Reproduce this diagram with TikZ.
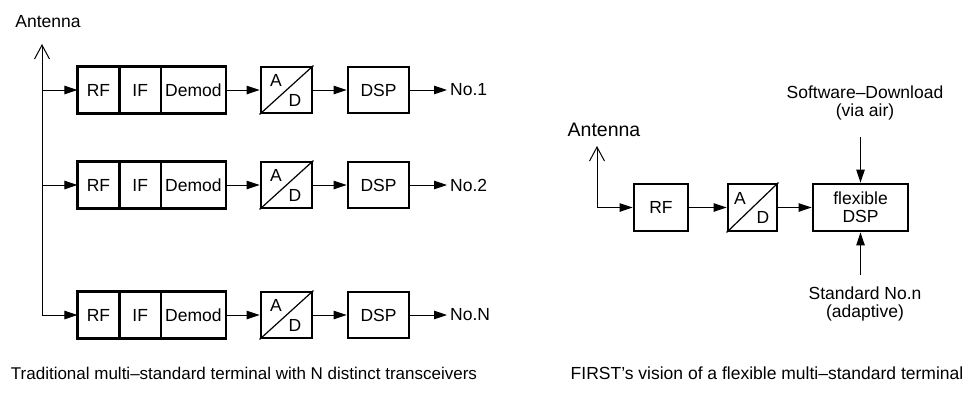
\documentclass[tikz,border=0pt]{standalone}
\usepackage{fontspec}
\setmainfont{Liberation Sans}
\usetikzlibrary{arrows.meta}
\begin{document}
\begin{tikzpicture}[x=1pt,y=1pt,yscale=-1,xscale=1,
		font=\fontsize{17.5}{18}\selectfont,
		blk/.style={draw,line width=2.8pt,minimum height=46pt,inner sep=0pt},
		cell/.style={draw,line width=1.2pt,minimum height=46pt,inner sep=0pt},
		sig/.style={line width=1pt,-{Triangle[length=13pt,width=8.5pt]}},
		ant/.style={line width=1pt,-{Straight Barb[length=14pt,width=15pt,line width=1pt]}},
		lbl/.style={inner sep=0pt,align=center}]
			\useasboundingbox (0,0) rectangle (965,400);
			%Left: one receiver chain per standard
			\foreach \y/\out [count=\n] in {90/No.1,185/No.2,315/No.N} {
				\node[cell,minimum width=41pt] (rf\n) at (98.5,\y) {RF};
				\node[cell,minimum width=40pt,anchor=west] (if\n) at (rf\n.east) {IF};
				\node[cell,minimum width=64pt,anchor=west] (dm\n) at (if\n.east) {Demod};
				\draw[line width=2.8pt] (rf\n.north west) rectangle (dm\n.south east);
				\node[blk,minimum width=51pt] (ad\n) at (286.5,\y) {};
				\draw[line width=1.2pt] (ad\n.south west) -- (ad\n.north east);
				\node[lbl] (a\n) at ([shift={(-10.5,-10)}]ad\n.center) {A};
				\node[lbl] (d\n) at ([shift={(8.5,10)}]ad\n.center) {D};
				\node[blk,minimum width=61pt] (dsp\n) at (378.5,\y) {DSP};
				\coordinate (br\n) at (42,\y);
				\coordinate (end\n) at (447,\y);
				\node[lbl,anchor=west] (no\n) at (450,\y) {\out};
				\draw[sig] (br\n) -- (rf\n.west);
				\draw[sig] (dm\n.east) -- (ad\n.west);
				\draw[sig] (ad\n.east) -- (dsp\n.west);
				\draw[sig] (dsp\n.east) -- (end\n);
			}
			%Straight Lines: left antenna
			\coordinate (antL) at (42,44);
			\draw[ant] (br3) -- (antL);
			% Text Node
			\node[lbl] (antLbl) at (48,22) {Antenna};

			%Right: flexible terminal
			\node[blk,minimum width=54pt,minimum height=47pt] (rfR) at (661,207.5) {RF};
			\node[blk,minimum width=49pt,minimum height=47pt] (adR) at (752.5,207.5) {};
			\draw[line width=1.2pt] (adR.south west) -- (adR.north east);
			\node[lbl] (aR) at ([shift={(-12.5,-9.5)}]adR.center) {A};
			\node[lbl] (dR) at ([shift={(10.5,10)}]adR.center) {D};
			\node[blk,minimum width=95pt,minimum height=47pt,align=center] (fdsp) at (860.5,207.5) {flexible\\DSP};
			%Straight Lines: right antenna
			\coordinate (antR) at (597,146);
			\coordinate (brR) at (597,207.5);
			\draw[ant] (brR) -- (antR);
			\draw[sig] (brR) -- (rfR.west);
			\draw[sig] (rfR.east) -- (adR.west);
			\draw[sig] (adR.east) -- (fdsp.west);
			% Text Node
			\node[lbl,font=\fontsize{19.5}{20}\selectfont] (antRLbl) at (604,130) {Antenna};
			% Text Node
			\node[lbl] (sw) at (865,103) {Software--Download\\(via air)};
			\coordinate (swIn) at (860.5,137);
			\draw[sig] (swIn) -- (fdsp.north);
			% Text Node
			\node[lbl] (std) at (865,304) {Standard No.n\\(adaptive)};
			\coordinate (stdIn) at (860.5,275);
			\draw[sig] (stdIn) -- (fdsp.south);

			% Text Node: captions
			\node[lbl,font=\fontsize{17}{18}\selectfont] (capL) at (244,373) {Traditional multi--standard terminal with N distinct transceivers};
			\node[lbl] (capR) at (767,373) {FIRST’s vision of a flexible multi--standard terminal};
\end{tikzpicture}
\end{document}
